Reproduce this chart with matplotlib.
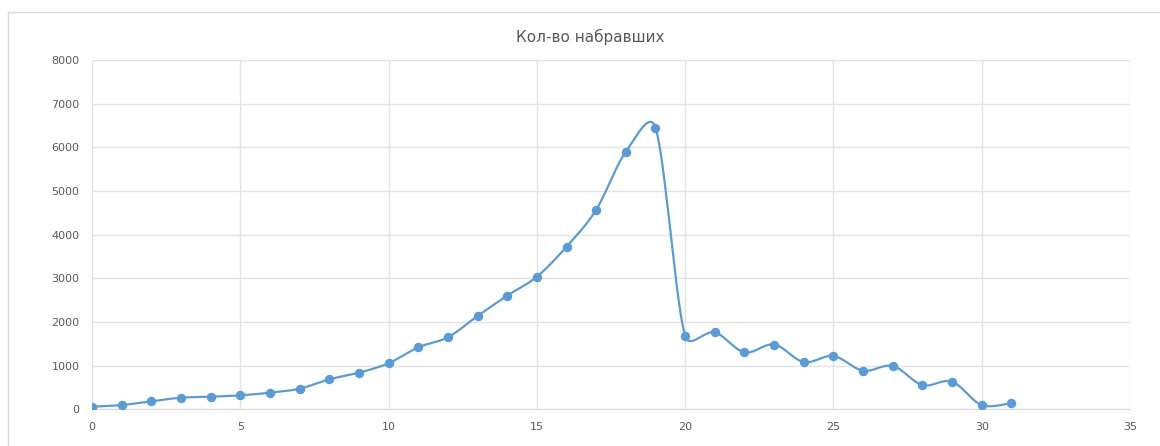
import matplotlib
matplotlib.use("Agg")
import matplotlib.pyplot as plt
from matplotlib.lines import Line2D
import numpy as np

# данные
days = list(range(32))
counts = [60, 98, 183, 266, 289, 320, 380, 472, 687, 838,
          1055, 1420, 1649, 2137, 2602, 3037, 3724, 4571, 5899, 6449,
          1679, 1763, 1305, 1484, 1083, 1221, 884, 992, 556, 632,
          98, 144]

x_ticks = [0, 5, 10, 15, 20, 25, 30, 35]
y_ticks = [0, 1000, 2000, 3000, 4000, 5000, 6000, 7000, 8000]
title = "Кол-во набравших"

BLUE = "#5B9BD5"
GRID = "#e3e3e3"
TXT = "#595959"

# пикселей на единицу по осям (для сглаживания как в Excel)
SX = 1038 / 35
SY = 349.3 / 8000


def smooth(xs, ys, n=40):
    '''сглаженная линия как в Excel: Безье, касательная 1/6,
    но не длиннее половины отрезка (в пикселях)'''
    P = np.column_stack([np.asarray(xs, float) * SX, np.asarray(ys, float) * SY])
    P = np.vstack([P[0], P, P[-1]])
    t = np.linspace(0, 1, n)[:, None]
    out = []
    for i in range(1, len(P) - 2):
        p0, p1, p2, p3 = P[i - 1], P[i], P[i + 1], P[i + 2]
        d12 = np.hypot(*(p2 - p1))
        d02 = np.hypot(*(p2 - p0))
        d13 = np.hypot(*(p3 - p1))
        f1 = 1 / 6 if d02 / 6 < d12 / 2 else d12 / (2 * d02)
        f2 = 1 / 6 if d13 / 6 < d12 / 2 else d12 / (2 * d13)
        c1 = p1 + f1 * (p2 - p0)
        c2 = p2 - f2 * (p3 - p1)
        b = (1 - t)**3 * p1 + 3 * (1 - t)**2 * t * c1 + 3 * (1 - t) * t**2 * c2 + t**3 * p2
        out.append(b)
    out = np.vstack(out)
    return out[:, 0] / SX, out[:, 1] / SY


fig = plt.figure(figsize=(11.6, 4.46), dpi=100)
ax = fig.add_axes([92 / 1160, 1 - 409.3 / 446, (1130 - 92) / 1160, (409.3 - 60) / 446])

sx, sy = smooth(days, counts)
ax.plot(sx, sy, color=BLUE, lw=1.6, zorder=3, solid_capstyle="round")
ax.plot(days, counts, "o", color=BLUE, ms=5.8, zorder=4)

ax.set_xlim(0, 35)
ax.set_ylim(0, 8000)
ax.set_xticks(x_ticks)
ax.set_yticks(y_ticks)
ax.grid(True, color=GRID, lw=1)
ax.set_axisbelow(True)
for s in ["top", "right", "left"]:
    ax.spines[s].set_visible(False)
ax.spines["bottom"].set_color("#d9d9d9")
ax.tick_params(length=0, labelsize=8, labelcolor=TXT)
ax.tick_params(axis="x", pad=9)
ax.tick_params(axis="y", pad=9)

fig.text(590 / 1160, 1 - 37 / 446, title, ha="center", va="center",
         fontsize=11, color=TXT)

# рамка диаграммы
fig.add_artist(Line2D([8 / 1160, 8 / 1160], [0, 1 - 12 / 446], color="#d9d9d9", lw=1))
fig.add_artist(Line2D([8 / 1160, 1], [1 - 12 / 446, 1 - 12 / 446], color="#d9d9d9", lw=1))

fig.savefig("out.png", dpi=100)
